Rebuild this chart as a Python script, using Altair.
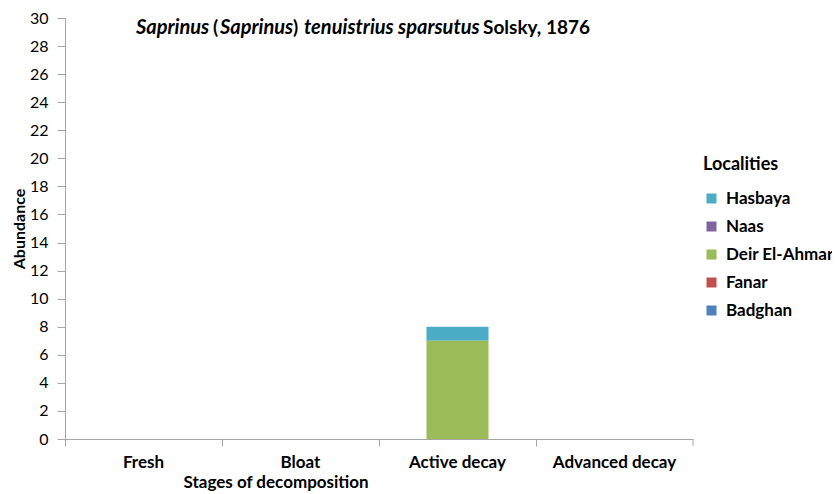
import altair as alt
import pandas as pd

stages = ["Fresh", "Bloat", "Active decay", "Advanced decay"]
localities = ["Hasbaya", "Naas", "Deir El-Ahmar", "Fanar", "Badghan"]
colors = ["#4BACC6", "#8064A2", "#9BBB59", "#C0504D", "#4F81BD"]
values = {
    "Hasbaya":       [0, 0, 1, 0],
    "Naas":          [0, 0, 0, 0],
    "Deir El-Ahmar": [0, 0, 7, 0],
    "Fanar":         [0, 0, 0, 0],
    "Badghan":       [0, 0, 0, 0],
}

rows = []
for loc in localities:
    for st, v in zip(stages, values[loc]):
        rows.append({"stage": st, "locality": loc, "value": v,
                     "stack": len(localities) - 1 - localities.index(loc)})
df = pd.DataFrame(rows)

FONT = "Lato"
W, H = 628, 421
AX = "#A6A6A6"

bars = alt.Chart(df).mark_bar(width=alt.RelativeBandSize(0.395)).encode(
    x=alt.X("stage:N", sort=stages, scale=alt.Scale(paddingInner=0, paddingOuter=0),
            axis=alt.Axis(title="Stages of decomposition", labelAngle=0, bandPosition=0,
                          ticks=True, tickSize=7, tickColor=AX, domainColor=AX,
                          labelFont=FONT, labelFontSize=17, labelFontWeight="bold",
                          labelColor="#000000", labelPadding=8,
                          titleFont=FONT, titleFontSize=17, titleFontWeight="bold",
                          titleColor="#000000", titleX=118, titleY=35,
                          titleBaseline="top", titleAlign="left", grid=False)),
    y=alt.Y("value:Q", scale=alt.Scale(domain=[0, 30], nice=False),
            axis=alt.Axis(title="Abundance", values=list(range(0, 31, 2)),
                          tickSize=8, tickColor=AX, domainColor=AX,
                          labelFont=FONT, labelFontSize=16, labelColor="#000000",
                          labelPadding=9, titleFont=FONT, titleFontSize=16,
                          titleFontWeight="bold", titleColor="#000000", titlePadding=2,
                          grid=False)),
    color=alt.Color("locality:N", scale=alt.Scale(domain=localities, range=colors),
                    legend=alt.Legend(title="Localities", orient="none", legendX=638,
                                      legendY=138, symbolType="square", symbolSize=100,
                                      symbolStrokeWidth=0, titleFont=FONT,
                                      titleFontSize=18, titleFontWeight="bold",
                                      titleColor="#000000", titlePadding=16,
                                      labelFont=FONT, labelFontSize=17,
                                      labelFontWeight="bold", labelColor="#000000",
                                      rowPadding=10, labelOffset=6)),
    order=alt.Order("stack:Q", sort="ascending"),
)

end_tick = alt.Chart(df).mark_rule(color=AX).encode(
    x=alt.value(W), y=alt.value(H), y2=alt.value(H + 7)
).transform_filter(alt.datum.stage == "Fresh").transform_filter(alt.datum.locality == "Badghan")


def seg(text, x, italic):
    return alt.Chart(pd.DataFrame({"t": [text]})).mark_text(
        align="left", baseline="middle", font=FONT,
        fontSize=20 if italic else 19, fontWeight="bold",
        fontStyle="italic" if italic else "normal", color="#000000"
    ).encode(text="t:N", x=alt.value(x), y=alt.value(10))


title_parts = [
    seg("Saprinus", 71, True),
    seg("(", 148, False),
    seg("Saprinus", 155, True),
    seg(")", 228, False),
    seg("tenuistrius sparsutus", 239, True),
    seg("Solsky, 1876", 418, False),
]

chart = alt.layer(bars, end_tick, *title_parts).properties(
    width=W, height=H, background="#FFFFFF",
    autosize=alt.AutoSizeParams(type="none"),
    padding={"left": 57, "top": 10, "right": 139, "bottom": 55},
).configure_view(strokeWidth=0)

chart.save("out.html", embed_options={"renderer": "svg", "actions": False})
